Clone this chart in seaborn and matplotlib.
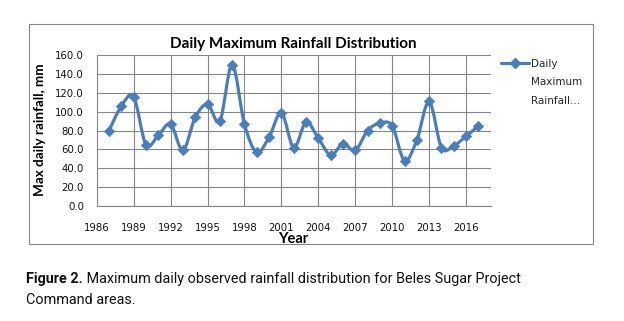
import numpy as np
import pandas as pd
import matplotlib
matplotlib.use("Agg")
import matplotlib.pyplot as plt
import seaborn as sns
from matplotlib.path import Path
from matplotlib.patches import PathPatch, Rectangle
from matplotlib.lines import Line2D

# ---- data ----
years = list(range(1987, 2018))
rainfall = [80, 106, 116, 65, 75, 87, 59, 94, 108, 90,
            150, 87, 57, 73, 99, 62, 89, 72, 54, 66,
            59, 80, 88, 85, 48, 70, 111, 62, 64, 74, 85]
x_ticks = list(range(1986, 2017, 3))
y_ticks = list(range(0, 161, 20))
title = "Daily Maximum Rainfall Distribution"
series_name = "Daily Maximum Rainfall..."

df = pd.DataFrame({"Year": years, "Rainfall": rainfall})

sns.set_style("white")
plt.rcParams["font.family"] = ["DejaVu Sans"]

W, H = 624, 321
fig = plt.figure(figsize=(W / 100, H / 100), dpi=100)

def fx(px):
    return px / W

def fy(py):
    return 1 - py / H

left, right, top, bottom = 96.7, 490.7, 55.3, 206.0
ax = fig.add_axes([fx(left), fy(bottom), (right - left) / W, (bottom - top) / H])

BLUE = "#4A7EBB"
GRID = "#868686"

# smoothed line (Bezier through the data points, like a spreadsheet smoothed line)
pts = df[["Year", "Rainfall"]].to_numpy(dtype=float)
n = len(pts)
verts = [pts[0]]
codes = [Path.MOVETO]
for i in range(n - 1):
    p0 = pts[i - 1] if i > 0 else pts[i]
    p1 = pts[i]
    p2 = pts[i + 1]
    p3 = pts[i + 2] if i + 2 < n else pts[i + 1]
    verts += [p1 + (p2 - p0) / 6, p2 - (p3 - p1) / 6, p2]
    codes += [Path.CURVE4] * 3
ax.add_patch(PathPatch(Path(verts, codes), facecolor="none", edgecolor=BLUE,
                       lw=2.3, capstyle="round", joinstyle="round", zorder=3))

sns.scatterplot(data=df, x="Year", y="Rainfall", marker="D", s=28, color=BLUE,
                edgecolor=BLUE, linewidth=0.5, ax=ax, zorder=4, legend=False)

ax.set_xlim(1986, 2018)
ax.set_ylim(0, 160)
ax.set_xticks(x_ticks)
ax.set_xticklabels([str(v) for v in x_ticks])
ax.set_yticks(y_ticks)
ax.set_yticklabels([f"{v:.1f}" for v in y_ticks])
ax.grid(True, color=GRID, lw=0.8)
ax.set_axisbelow(True)
for s in ["top", "right"]:
    ax.spines[s].set_visible(False)
for s in ["left", "bottom"]:
    ax.spines[s].set_color(GRID)
    ax.spines[s].set_linewidth(0.8)
ax.tick_params(axis="both", direction="out", length=3.6, width=0.8, color=GRID,
               labelsize=7.3, labelcolor="#111111")
ax.tick_params(axis="x", pad=8.5)
ax.tick_params(axis="y", pad=5.5)
ax.set_xlabel("")
ax.set_ylabel("")

# titles / labels
fig.text(fx(293), fy(44), title, ha="center", va="center", fontsize=11,
         fontweight="bold", family=["Lato", "DejaVu Sans"], color="#000000")
fig.text(fx(293), fy(239), "Year", ha="center", va="center", fontsize=10.5,
         fontweight="bold", family=["Lato", "DejaVu Sans"], color="#000000")
fig.text(fx(40), fy(130), "Max daily rainfall, mm", ha="center", va="center",
         rotation=90, fontsize=9.7, fontweight="bold",
         family=["Lato", "DejaVu Sans"], color="#000000")

# legend
words = series_name.split(" ")
handle = Line2D([], [], color=BLUE, lw=2.3, marker="D", markersize=5.5)
fig.legend(handles=[handle], labels=[words[0]], loc="center left",
           bbox_to_anchor=(fx(501), fy(64)), bbox_transform=fig.transFigure,
           frameon=False, borderpad=0, borderaxespad=0, handlelength=2.7,
           handletextpad=0.2, fontsize=7.5)
fig.text(fx(531), fy(82), words[1], ha="left", va="center", fontsize=7.5)
fig.text(fx(531), fy(101), words[2], ha="left", va="center", fontsize=7.5)

# chart frame
fig.add_artist(Rectangle((fx(28.7), fy(244.3)), (593.3 - 28.7) / W, (244.3 - 23.7) / H,
                         transform=fig.transFigure, fill=False, edgecolor=GRID, lw=0.8))

# caption
cap_fam = ["Roboto", "DejaVu Sans"]
cap_size = 10.4
t1 = fig.text(fx(26), fy(283), "Figure 2.", ha="left", va="baseline", fontsize=cap_size,
              fontweight="bold", family=cap_fam, color="#111111")
ax.annotate(" Maximum daily observed rainfall distribution for Beles Sugar Project",
            xy=(1, 0), xycoords=t1, ha="left", va="bottom", fontsize=cap_size,
            family=cap_fam, color="#111111", annotation_clip=False)
fig.text(fx(26), fy(304), "Command areas.", ha="left", va="baseline", fontsize=cap_size,
         family=cap_fam, color="#111111")

fig.savefig("out.png", dpi=100)
